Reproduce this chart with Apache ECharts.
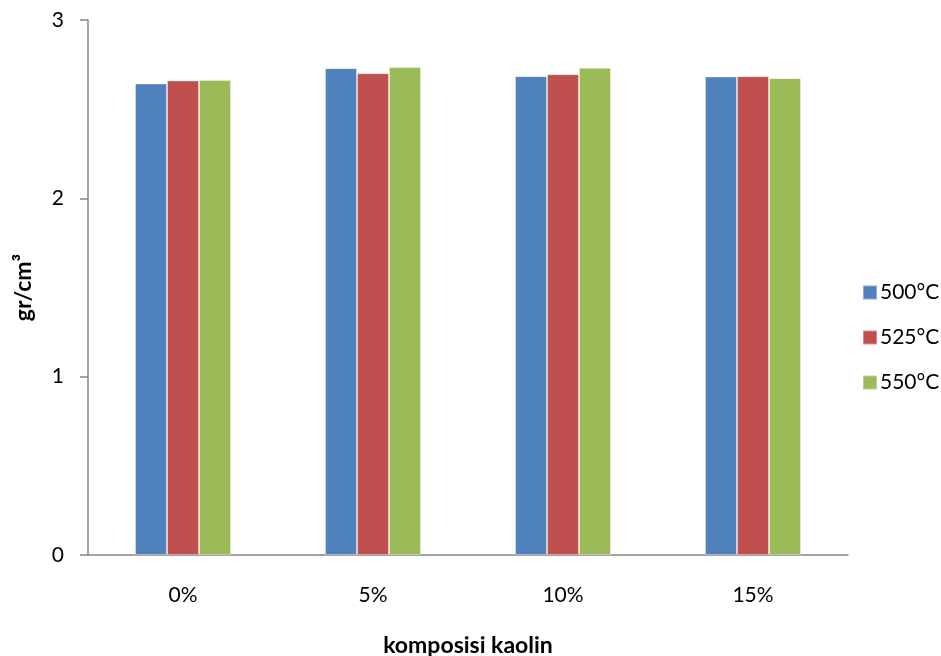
<!DOCTYPE html>
<html>
<head>
<meta charset="utf-8">
<script src="https://cdn.jsdelivr.net/npm/echarts@6/dist/echarts.min.js"></script>
<style>
  html, body { margin: 0; padding: 0; background: #fff; }
  #chart { width: 941px; height: 656px; }
</style>
</head>
<body>
<div id="chart"></div>
<script>
// Density of samples by kaolin composition and firing temperature
const categories = ['0%', '5%', '10%', '15%'];
const seriesNames = ['500°C', '525°C', '550°C'];
const values500 = [2.644, 2.730, 2.685, 2.683];
const values525 = [2.661, 2.702, 2.696, 2.685];
const values550 = [2.664, 2.736, 2.732, 2.674];
const yTicks = [0, 1, 2, 3];

const colors = ['#4F81BD', '#C0504D', '#9BBB59'];
const font = 'Lato, "Open Sans", sans-serif';

const chart = echarts.init(document.getElementById('chart'));
const dataSets = [values500, values525, values550];

chart.setOption({
  animation: false,
  textStyle: { fontFamily: font },
  grid: { left: 88, right: 93, top: 20, bottom: 101, outerBoundsMode: 'none', containLabel: false },
  legend: {
    orient: 'vertical',
    left: 857,
    top: 277,
    itemWidth: 14,
    itemHeight: 14,
    itemGap: 24,
    icon: 'rect',
    data: seriesNames,
    textStyle: { fontSize: 21, color: '#000', fontFamily: font, padding: [0, 0, 0, -2] }
  },
  xAxis: {
    type: 'category',
    data: categories,
    name: 'komposisi kaolin',
    nameLocation: 'middle',
    nameGap: 79,
    nameTextStyle: { fontSize: 23, fontWeight: 'bold', color: '#000', fontFamily: font },
    axisLine: { lineStyle: { color: '#868686', width: 1.5 } },
    axisTick: { show: false },
    axisLabel: { fontSize: 21, color: '#000', margin: 30, fontFamily: font }
  },
  yAxis: {
    type: 'value',
    min: yTicks[0],
    max: yTicks[yTicks.length - 1],
    interval: 1,
    name: 'gr/cm³',
    nameLocation: 'middle',
    nameGap: 53,
    nameRotate: 90,
    nameTextStyle: { fontSize: 23, fontWeight: 'bold', color: '#000', fontFamily: font },
    splitLine: { show: false },
    axisLine: { show: true, lineStyle: { color: '#868686', width: 1.5 } },
    axisTick: { show: true, length: 8, lineStyle: { color: '#868686', width: 1.5 } },
    axisLabel: { fontSize: 21, color: '#000', margin: 24, fontFamily: font }
  },
  series: dataSets.map((vals, i) => ({
    name: seriesNames[i],
    type: 'bar',
    data: vals,
    barGap: '0%',
    barCategoryGap: '49.5%',
    itemStyle: { color: colors[i], borderColor: 'rgba(255,255,255,0.35)', borderWidth: 1 }
  }))
});
</script>
</body>
</html>
